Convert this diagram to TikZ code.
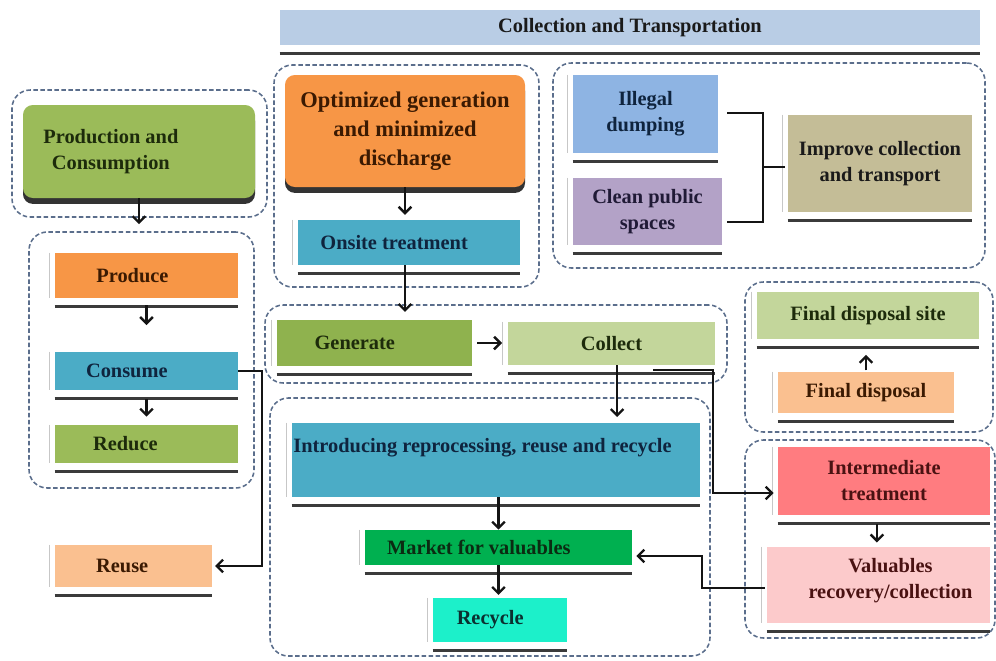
\documentclass[tikz,border=0pt]{standalone}
\usepackage{fontspec}
\setmainfont{Liberation Serif}
\usetikzlibrary{arrows.meta,calc,fit}

% box fills
\definecolor{cHead}{HTML}{B9CDE5}
\definecolor{cDash}{HTML}{5B6E8C}
\definecolor{cUnder}{HTML}{3B3B3B}
\definecolor{cGreen}{HTML}{9BBB59}
\definecolor{cGenerate}{HTML}{8FB24E}
\definecolor{cLtGreen}{HTML}{C3D69B}
\definecolor{cOrange}{HTML}{F79646}
\definecolor{cPeach}{HTML}{FAC090}
\definecolor{cTeal}{HTML}{4BACC6}
\definecolor{cSky}{HTML}{8EB4E3}
\definecolor{cLilac}{HTML}{B3A2C7}
\definecolor{cTan}{HTML}{C4BD97}
\definecolor{cMarket}{HTML}{00B050}
\definecolor{cAqua}{HTML}{1CF0CA}
\definecolor{cRed}{HTML}{FF7C80}
\definecolor{cPink}{HTML}{FCCACB}
% text colours
\definecolor{tNavy}{HTML}{0F243E}
\definecolor{tOlive}{HTML}{1D2B0B}
\definecolor{tBrown}{HTML}{3B1A02}
\definecolor{tPurple}{HTML}{201A36}
\definecolor{tMaroon}{HTML}{4A1212}
\definecolor{tBlack}{HTML}{1A1A1A}
\definecolor{tForest}{HTML}{0B2B12}
\definecolor{tDeep}{HTML}{0B3030}

\begin{document}
\begin{tikzpicture}[x=0.025cm,y=-0.025cm,
  font=\bfseries\fontsize{14.5}{18.5}\selectfont,
  grp/.style={draw=cDash,line width=1.1pt,dash pattern=on 3.2pt off 1.8pt,
    rounded corners=13pt,inner sep=0pt},
  ubar/.style={inner sep=0pt,append after command={
      ([yshift=-5.7pt]\tikzlastnode.south west) edge[draw=cUnder,line width=2.1pt]
      ([yshift=-5.7pt]\tikzlastnode.south east)}},
  bx/.style={ubar,append after command={
      ([xshift=-3.6pt]\tikzlastnode.north west) edge[draw=black!22,line width=0.9pt]
      ([xshift=-3.6pt]\tikzlastnode.south west)}},
  rbx/.style={inner sep=0pt,rounded corners=7pt,
    preaction={fill=black!80,transform canvas={yshift=-4.2pt}}},
  tx/.style={inner sep=0pt,align=center,text=#1},
  ln/.style={draw=black!92,line width=1.7pt},
  arr/.style={ln,-{Straight Barb[length=4.5pt,width=9pt]}}]

\clip (0,0) rectangle (996,660);

% heading band
\node[ubar,fill=cHead,fit={(280,10)(980,45)},
  label={[tx=tBlack]center:Collection and Transportation}] (head) {};

% dashed groups
\node[grp,fit={(12,90)(267,217)}]   (gProd)  {};
\node[grp,fit={(29,232)(254,488)}]  (gLife)  {};
\node[grp,fit={(274,65)(539,287)}]  (gOpt)   {};
\node[grp,fit={(553,63)(985,268)}]  (gPub)   {};
\node[grp,fit={(265,305)(727,383)}] (gGen)   {};
\node[grp,fit={(270,398)(710,656)}] (gIntro) {};
\node[grp,fit={(745,282)(993,432)}] (gFinal) {};
\node[grp,fit={(745,440)(995,638)}] (gInter) {};

% rounded headline boxes
\node[rbx,fill=cGreen,fit={(23,105)(255,198)},
  label={[tx=tOlive,xshift=-20pt]center:Production and\\Consumption}] (prod) {};
\node[rbx,fill=cOrange,fit={(285,75)(525,187)},
  label={[tx=tBrown,font=\bfseries\fontsize{16}{20.5}\selectfont]center:Optimized generation\\and minimized\\discharge}] (opt) {};

% process boxes
\node[bx,fill=cTeal,fit={(298,220)(520,265)},
  label={[tx=tNavy,xshift=-10.6pt]center:Onsite treatment}] (onsite) {};
\node[bx,fill=cSky,fit={(573,75)(718,153)},
  label={[tx=tNavy]center:Illegal\\dumping}] (illegal) {};
\node[bx,fill=cLilac,fit={(573,178)(722,245)},
  label={[tx=tPurple]center:Clean public\\spaces}] (clean) {};
\node[bx,fill=cTan,fit={(788,115)(972,212)},
  label={[tx=tBlack]center:Improve collection\\and transport}] (improve) {};

\node[bx,fill=cOrange,fit={(55,253)(238,298)},
  label={[tx=tBrown,xshift=-10pt]center:Produce}] (produce) {};
\node[bx,fill=cTeal,fit={(55,352)(238,390)},
  label={[tx=tNavy,xshift=-14pt]center:Consume}] (consume) {};
\node[bx,fill=cGreen,fit={(55,425)(238,463)},
  label={[tx=tOlive,xshift=-15pt]center:Reduce}] (reduce) {};
\node[bx,fill=cPeach,fit={(55,545)(212,587)},
  label={[tx=tBrown,xshift=-8pt]center:Reuse}] (reuse) {};

\node[bx,fill=cGenerate,fit={(277,320)(472,366)},
  label={[tx=tOlive,xshift=-14pt]center:Generate}] (generate) {};
\node[bx,fill=cLtGreen,fit={(508,322)(715,365)},
  label={[tx=tOlive]center:Collect}] (collect) {};

\node[bx,fill=cTeal,fit={(292,423)(700,497)},
  label={[tx=tNavy,anchor=west,xshift=1pt,yshift=9pt]west:Introducing reprocessing, reuse and recycle}] (intro) {};
\node[bx,fill=cMarket,fit={(365,530)(632,565)},
  label={[tx=tForest,xshift=-14pt]center:Market for valuables}] (market) {};
\node[bx,fill=cAqua,fit={(433,598)(567,642)},
  label={[tx=tDeep,xshift=-7pt]center:Recycle}] (recycle) {};

\node[bx,fill=cLtGreen,fit={(757,292)(979,339)},
  label={[tx=tOlive]center:Final disposal site}] (site) {};
\node[bx,fill=cPeach,fit={(778,372)(954,413)},
  label={[tx=tBrown]center:Final disposal}] (fdisp) {};
\node[bx,fill=cRed,fit={(778,447)(990,515)},
  label={[tx=tMaroon]center:Intermediate\\treatment}] (inter) {};
\node[bx,fill=cPink,fit={(767,547)(990,623)},
  label={[tx=tMaroon,xshift=8.5pt,yshift=2.8pt]center:Valuables\\recovery/collection}] (valu) {};

% connectors
\draw[arr,shorten >=5pt] (prod.south) -- (prod.south |- gLife.north);
\draw[arr,shorten >=3.5pt] (opt.south) -- (opt.south |- onsite.north);
\draw[arr,shorten >=5.5pt] (opt.south |- onsite.south) -- (opt.south |- generate.north);
\draw[arr,shorten <=5pt,shorten >=19pt] (produce.south) -- (consume.north);
\draw[arr,shorten <=6.4pt,shorten >=5.7pt] (consume.south) -- (reduce.north);
\draw[arr,shorten >=2pt] (consume.east) -- ++(24,0) |- (reuse.east);
\draw[arr,shorten <=3.5pt,shorten >=4pt] (generate.east) -- (collect.west |- generate.east);
\draw[arr,shorten >=4pt] ([xshift=4pt]collect.south) -- ([xshift=4pt]collect.south |- intro.north);
\draw[arr] ($(collect.south east)+(-62,5)$) -- ++(60,0) |- ($(inter.west)+(-4,12)$);
\draw[arr] (market.north |- intro.south) -- (market.north);
\draw[arr,shorten >=2pt] (market.south) -- (market.south |- recycle.north);
\draw[arr] ($(valu.west)+(-2,3)$) -- ++(-63,0) |- ($(market.east)+(4,8.5)$);
\draw[arr,shorten <=1pt,shorten >=11pt] (fdisp.north) -- (fdisp.north |- site.south);
\draw[arr,shorten <=6pt,shorten >=3pt] ([xshift=-5pt]inter.south) -- ([xshift=-5pt]inter.south |- valu.north);

% bracket joining the two public-space issues
\draw[ln] ($(illegal.east)+(9,-1)$) -- ++(36,0) |- ($(clean.east)+(5,10.5)$);
\coordinate (bkmid) at (763,167);
\draw[ln,shorten >=2pt] (bkmid) -- (bkmid -| improve.west);
\end{tikzpicture}
\end{document}
